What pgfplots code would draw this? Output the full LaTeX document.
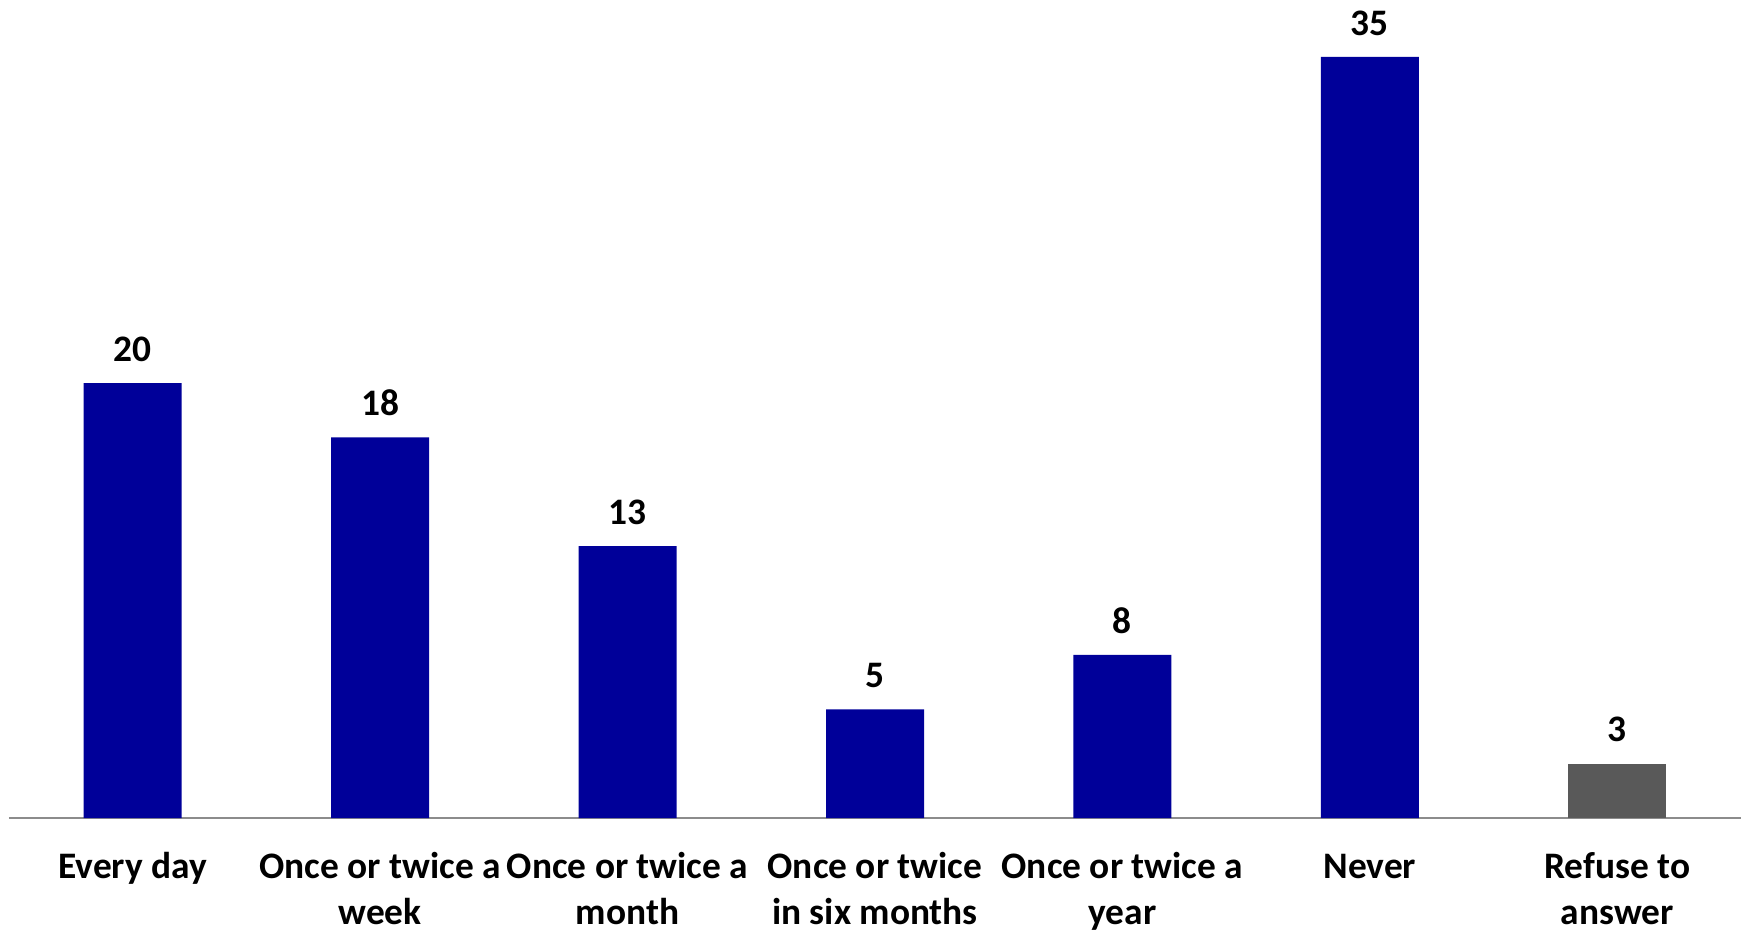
\documentclass[border=0pt]{standalone}
\usepackage{fontspec}
\setmainfont{Carlito}
\usepackage{pgfplots}
\pgfplotsset{compat=1.18}
\definecolor{barblue}{HTML}{000099}
\definecolor{bargray}{HTML}{595959}
\definecolor{axisgray}{HTML}{8C8C8C}
\newcommand{\lbl}{\fontsize{18.7}{23.2}\selectfont\bfseries}
\begin{document}
\begin{tikzpicture}
\begin{axis}[
  scale only axis, width=866pt, height=408.8pt,
  xmin=-0.5, xmax=6.5, ymin=0, ymax=37.6,
  axis x line=bottom, axis y line=none,
  x axis line style={axisgray, line width=1pt, -},
  xtick={0,1,2,3,4,5,6}, major tick length=0pt,
  xticklabels={{\rule{0pt}{14pt}Every day},
               {\rule{0pt}{14pt}Once or twice a\\week},
               {\rule{0pt}{14pt}Once or twice a\\month},
               {\rule{0pt}{14pt}Once or twice\\in six months},
               {\rule{0pt}{14pt}Once or twice a\\year},
               {\rule{0pt}{14pt}Never},
               {\rule{0pt}{14pt}Refuse to\\answer}},
  xticklabel style={font=\lbl, align=center, inner sep=0pt, anchor=north, yshift=-16pt},
  ybar, bar width=49pt, bar shift=0pt,
  point meta=explicit symbolic,
  nodes near coords,
  nodes near coords style={font=\lbl, black, inner sep=0pt, anchor=south, yshift=10.5pt},
  clip=false,
]
\addplot[fill=barblue, draw=none] coordinates {(0,20) [20] (1,17.5) [18] (2,12.5) [13] (3,5) [5] (4,7.5) [8] (5,35) [35]};
\addplot[fill=bargray, draw=none] coordinates {(6,2.5) [3]};
\coordinate (bl) at (rel axis cs:0,0);
\end{axis}
\pgfresetboundingbox
\path[use as bounding box] ([shift={(-4.5pt,-57pt)}]bl) rectangle ++(873pt,466pt);
\end{tikzpicture}
\end{document}
